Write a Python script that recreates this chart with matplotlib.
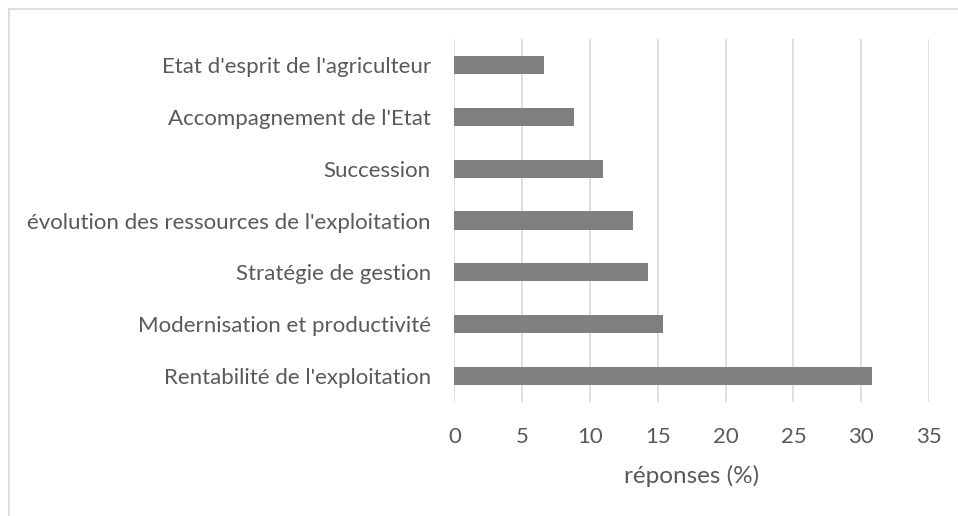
import matplotlib.pyplot as plt
from matplotlib.lines import Line2D

plt.rcParams['font.family'] = ['Lato', 'DejaVu Sans']

categories = [
    "Rentabilité de l'exploitation",
    "Modernisation et productivité",
    "Stratégie de gestion",
    "évolution des ressources de l'exploitation",
    "Succession",
    "Accompagnement de l'Etat",
    "Etat d'esprit de l'agriculteur",
]
reponses = [30.77, 15.38, 14.29, 13.19, 10.99, 8.79, 6.59]
xticks = [0, 5, 10, 15, 20, 25, 30, 35]

text_col = '#595959'
grid_col = '#d9d9d9'

fig = plt.figure(figsize=(9.58, 5.16), dpi=100)
ax = fig.add_axes([0.4743, 0.2209, 0.4955, 0.7035])

ax.barh(range(len(categories)), reponses, height=0.35, color='#7f7f7f', zorder=3)

ax.set_xlim(0, 35)
ax.set_ylim(-0.5, len(categories) - 0.5)
ax.set_xticks(xticks)
ax.set_yticks(range(len(categories)))
ax.set_yticklabels(categories)
ax.grid(axis='x', color=grid_col, linewidth=1.2, zorder=0)
for s in ax.spines.values():
    s.set_visible(False)
ax.tick_params(axis='both', length=0, labelcolor=text_col, labelsize=16)
ax.tick_params(axis='y', pad=17)
ax.tick_params(axis='x', pad=18)
ax.set_xlabel('réponses (%)', color=text_col, fontsize=17.5, labelpad=13)

# cadre du graphique (haut et gauche visibles)
fig.add_artist(Line2D([9 / 958, 1], [1 - 9 / 516] * 2, color=grid_col, lw=1.2))
fig.add_artist(Line2D([9 / 958] * 2, [0, 1 - 9 / 516], color=grid_col, lw=1.2))

fig.savefig('out.png', dpi=100, facecolor='white')
